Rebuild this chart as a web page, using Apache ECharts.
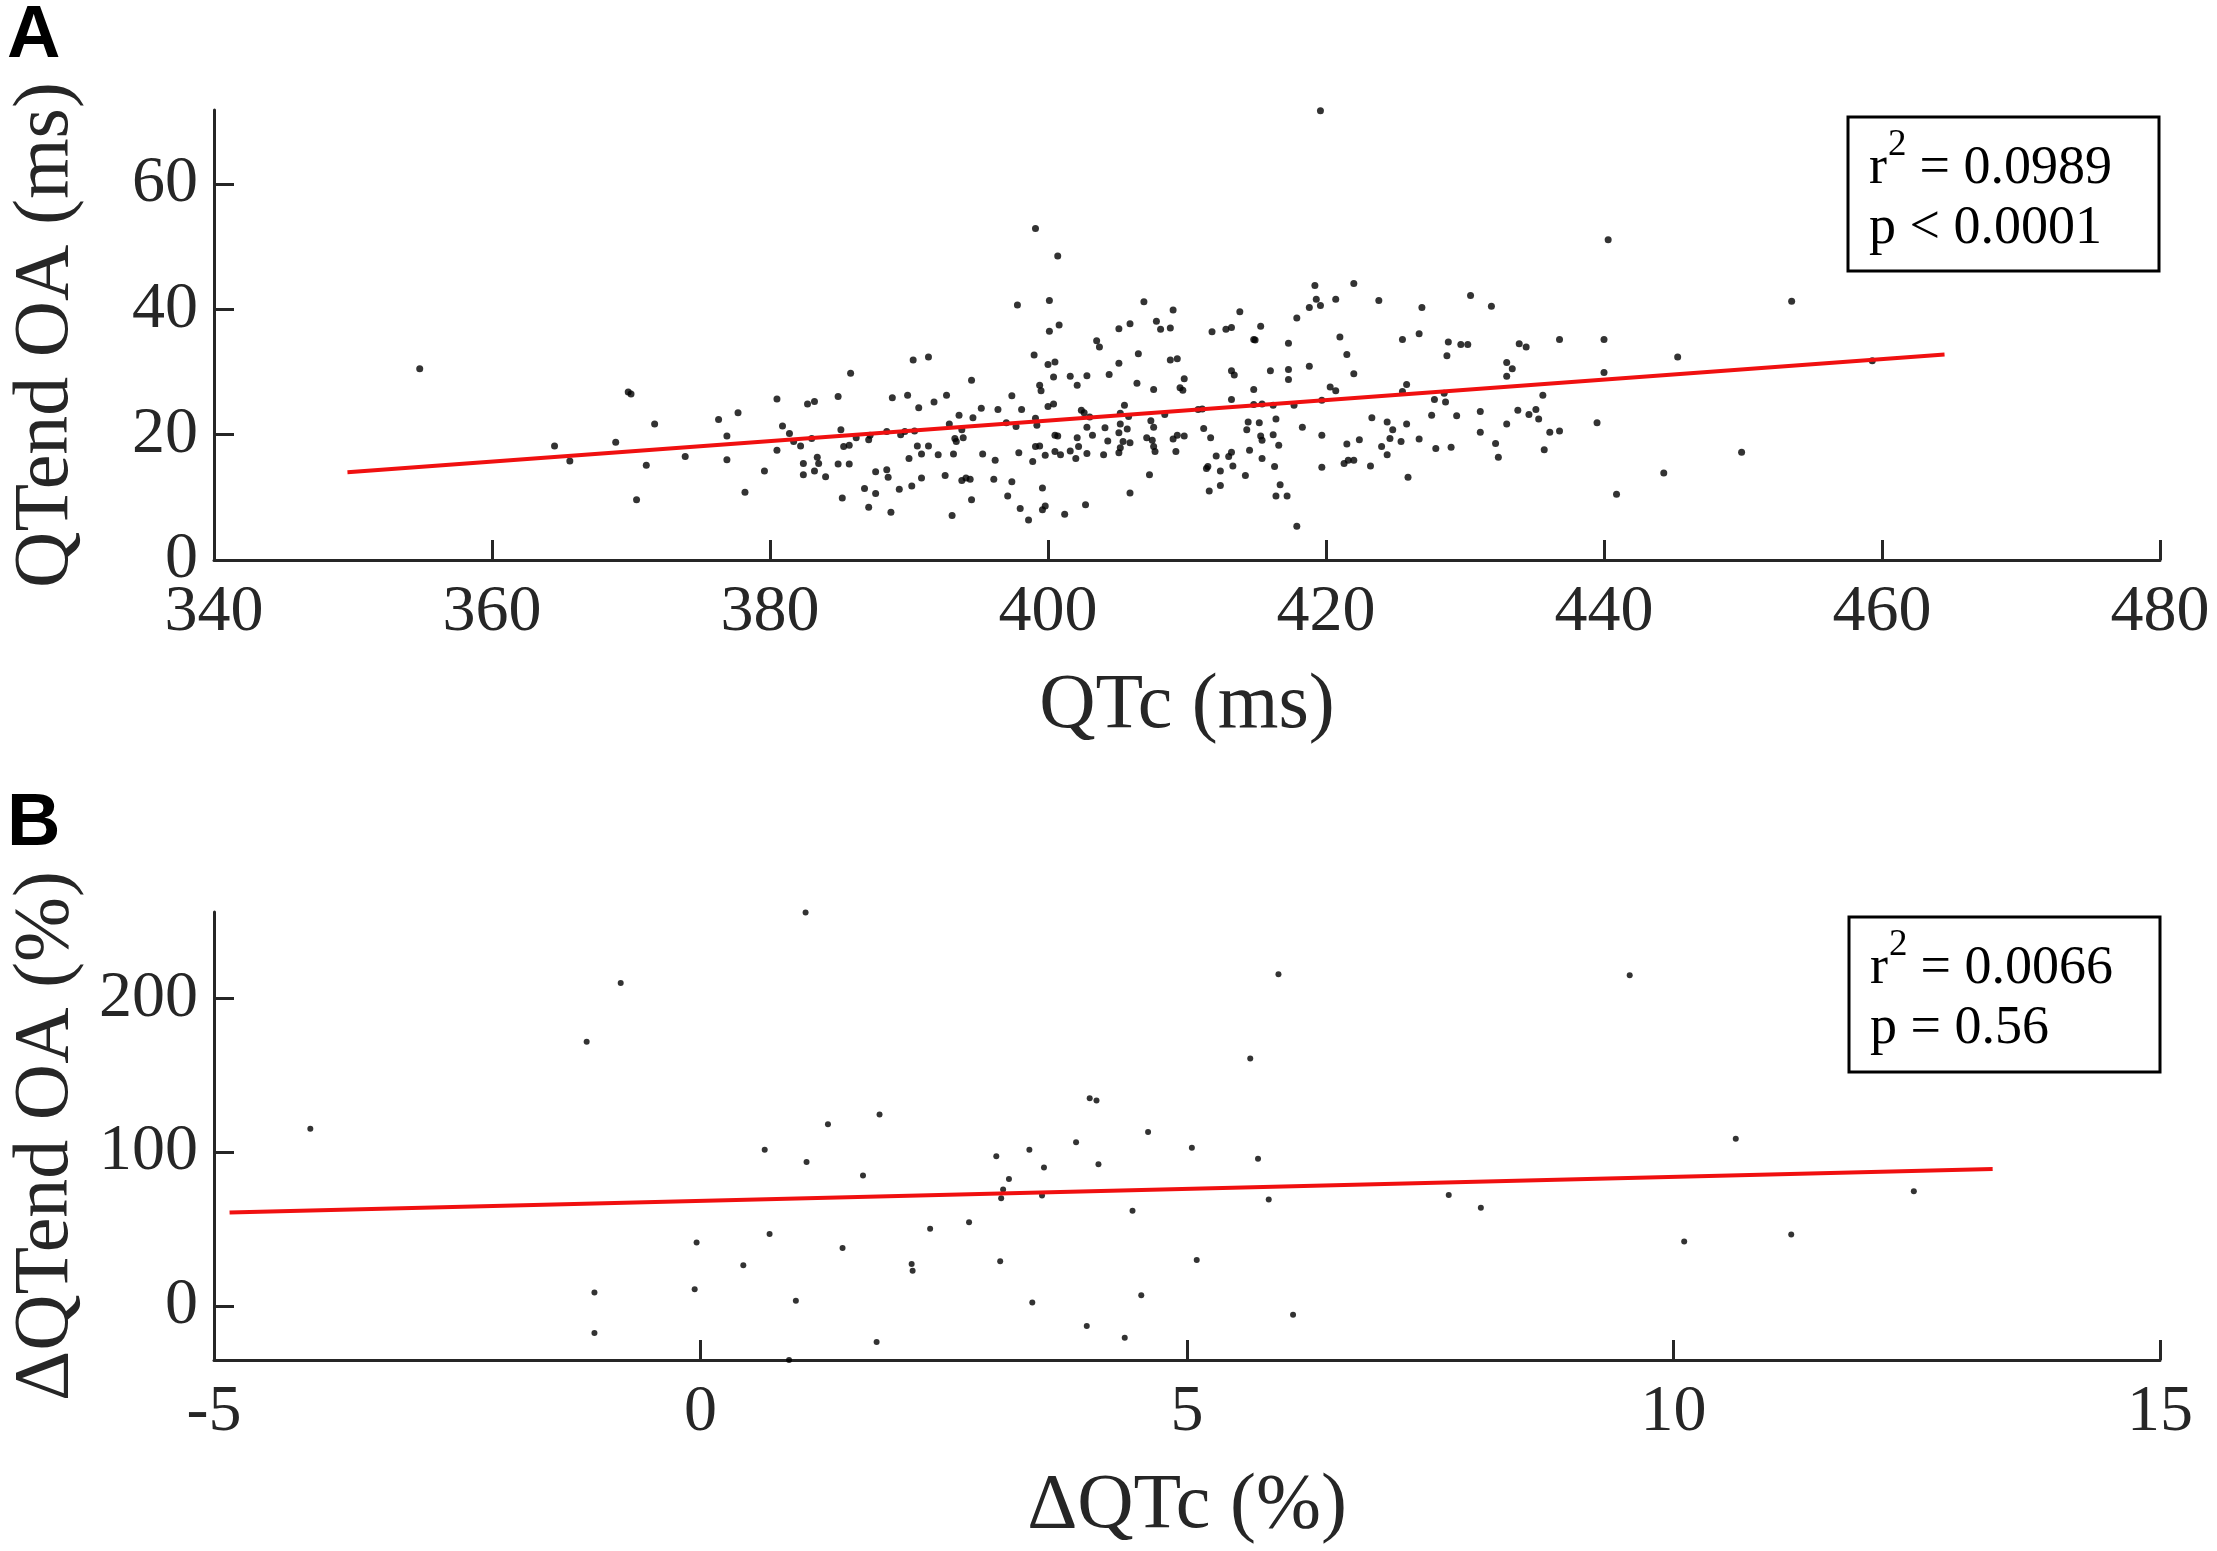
<!DOCTYPE html>
<html>
<head>
<meta charset="utf-8">
<script src="https://cdn.jsdelivr.net/npm/echarts@6/dist/echarts.min.js"></script>
<style>
  html, body { margin: 0; padding: 0; background: #fff; }
  #chart { width: 2217px; height: 1551px; }
</style>
</head>
<body>
<div id="chart"></div>
<script>
// ---- panel A : QTc (ms) vs QTend OA (ms) ----
const qtcA = [
  354.8,364.5,365.6,368.9,369.8,370.0,370.4,371.1,371.7,373.9,
  376.3,377.7,376.9,376.9,378.2,379.6,380.5,380.9,381.4,380.5,
  381.7,382.2,382.7,383.2,383.0,382.4,382.4,383.2,383.4,383.5,
  384.0,384.9,385.1,385.3,385.7,384.9,385.7,385.2,385.8,386.2,
  387.2,387.1,386.8,387.1,387.6,387.6,388.4,388.4,388.5,388.8,
  388.7,389.3,389.4,389.7,389.9,390.0,390.2,390.3,390.4,390.7,
  390.6,390.9,390.9,391.4,391.4,391.8,392.1,392.6,392.7,392.9,
  393.1,393.2,393.3,393.4,393.6,393.8,393.9,393.8,394.1,394.4,
  394.5,394.5,394.6,
  399.1,400.7,397.8,400.1,400.8,400.1,399.0,400.0,400.5,400.4,
  399.4,399.5,395.2,396.4,397.4,398.1,397.0,397.7,399.1,399.2,
  400.0,400.4,395.3,396.2,397.9,398.9,399.1,399.4,399.8,400.5,
  400.7,400.5,400.9,396.1,397.4,397.1,398.0,398.6,399.6,399.6,
  399.8,401.2,401.6,402.1,402.8,401.6,402.0,402.1,402.2,402.4,
  402.6,403.0,402.8,403.2,402.8,402.7,403.5,403.7,404.4,404.1,
  404.3,404.0,405.1,405.1,405.9,405.5,405.2,405.2,405.1,405.7,
  405.4,405.9,405.2,405.1,405.9,406.5,406.9,406.4,405.8,407.4,
  407.6,407.1,407.5,407.6,407.7,407.3,407.6,407.8,408.1,408.4,
  408.8,409.0,408.8,409.3,409.8,409.5,409.7,409.0,409.3,409.8,
  409.2,410.8,411.1,411.2,411.7,411.4,411.5,411.6,411.8,
  412.8,413.2,413.8,414.8,414.9,415.3,413.2,413.4,413.2,414.8,
  414.8,415.4,416.2,416.0,417.3,417.3,417.3,417.9,417.7,418.8,
  419.2,419.3,419.6,418.8,420.7,422.0,421.0,421.5,422.0,420.3,
  420.7,419.7,423.8,425.5,426.7,426.9,425.5,425.8,428.8,428.7,
  428.5,427.8,428.6,427.6,429.4,412.1,412.4,412.4,413.0,413.2,
  413.3,414.2,414.3,414.4,414.5,415.2,415.3,415.4,415.4,416.2,
  416.4,416.6,416.3,416.7,416.4,417.2,417.9,418.3,419.7,419.7,
  421.5,421.3,421.6,422.0,422.4,423.2,423.3,424.0,424.4,424.4,
  424.8,424.6,425.4,425.8,425.9,426.7,427.9,429.0,419.6,
  430.4,431.9,429.7,430.2,433.9,434.4,436.8,440.0,440.3,433.0,
  433.4,433.0,440.0,445.3,435.6,431.1,431.1,433.8,435.1,434.6,
  435.3,433.0,436.1,436.8,435.7,432.2,432.4,439.5,444.3,440.9,
  453.5,449.9,459.3
];
const oaA = [
  30.5,18.2,15.8,18.8,26.8,26.5,9.6,15.1,21.7,16.5,
  22.4,23.5,19.8,16.0,10.8,14.2,25.7,21.4,20.2,17.5,
  18.9,18.2,24.9,25.3,19.4,15.4,13.6,14.2,16.4,15.4,
  13.3,26.1,20.8,18.1,18.3,15.3,15.3,9.9,29.8,19.5,
  19.9,19.2,11.4,8.4,14.1,10.6,20.5,14.4,13.2,25.9,
  7.6,11.3,20.0,20.5,26.3,16.2,11.8,31.9,20.6,24.3,
  18.2,16.9,13.1,32.4,18.2,25.2,16.8,13.5,26.3,21.7,
  7.1,16.9,19.4,18.9,23.1,20.8,19.5,12.7,13.1,12.9,
  9.6,28.7,22.7,
  52.9,48.5,40.7,41.4,37.5,36.5,32.7,31.2,31.6,29.2,
  27.9,27.0,24.2,24.0,26.2,24.0,21.9,21.3,22.6,21.5,
  24.5,24.9,16.9,15.9,17.1,15.7,18.1,18.2,16.7,19.9,
  19.8,17.3,16.8,12.9,12.5,10.2,8.2,6.4,11.5,8.0,
  8.6,7.3,29.3,27.9,29.4,17.4,16.2,19.5,18.1,23.9,
  23.5,22.8,21.2,19.9,17.0,8.8,35.0,34.0,29.6,21.1,
  19.0,16.8,36.9,31.4,37.7,24.7,23.4,21.7,20.3,20.9,
  18.9,18.7,17.9,17.1,10.7,32.9,41.2,28.2,22.9,22.2,
  21.2,19.5,19.1,18.1,17.3,13.6,27.2,38.1,36.8,23.2,
  37.0,39.9,31.9,32.1,28.9,27.5,27.1,19.3,19.9,19.8,
  17.3,24.0,24.1,21.0,19.5,14.6,14.9,11.0,36.4,
  36.8,37.1,39.6,35.2,35.1,37.3,30.2,29.5,25.6,27.2,
  24.8,24.9,24.7,30.2,34.6,30.4,28.8,38.6,24.7,40.3,
  43.8,41.6,40.6,30.9,41.6,44.1,35.6,32.8,29.7,27.6,
  27.0,25.5,41.4,35.2,36.1,40.3,26.9,28.0,34.8,32.6,
  26.6,25.6,25.2,23.1,23.0,16.6,14.2,11.9,16.5,17.2,
  15.0,13.5,20.8,22.0,17.5,21.9,19.8,19.1,16.2,20.0,
  22.5,18.3,14.9,12.0,10.2,10.2,5.4,21.2,19.9,14.8,
  18.5,15.4,15.9,15.9,19.2,15.0,22.7,18.1,16.8,22.0,
  20.8,19.4,18.9,21.7,13.2,19.3,17.8,18.0,71.7,
  42.2,40.5,34.4,34.4,34.5,34.0,35.2,35.2,51.1,31.5,
  30.5,29.3,29.9,32.4,26.3,23.7,20.4,23.9,24.0,23.2,
  22.5,21.7,20.4,20.6,17.6,18.6,16.4,21.9,13.9,10.5,
  41.3,17.2,31.8
];
// regression line end points, panel A
const fitAx = [349.6, 464.5];
const fitAy = [14.0, 32.8];
const ticksAx = [340, 360, 380, 400, 420, 440, 460, 480];
const ticksAy = [0, 20, 40, 60];
const statsA = ['0.0989', 'p < 0.0001'];

// ---- panel B : ΔQTc (%) vs ΔQTend OA (%) ----
const dqtcB = [
  -4.01,-1.17,-0.82,-0.04,-0.06,-1.09,-1.09,
  1.08,1.31,1.84,0.66,1.09,1.67,0.71,1.46,0.44,2.17,2.18,0.98,1.81,0.91,
  2.36,2.76,3.04,3.38,3.17,3.11,3.09,3.53,3.51,3.08,3.41,
  3.86,4.00,4.07,4.09,4.44,3.97,4.36,4.53,4.60,5.05,5.10,
  5.94,9.55,5.65,5.73,5.84,6.09,7.69,8.02,10.64,10.11,11.21,12.47
];
const doaB = [
  115.2,171.7,209.9,41.4,11.0,8.8,-17.5,
  255.7,118.2,124.5,101.6,93.6,84.8,46.8,37.8,26.5,27.4,22.9,3.5,-23.3,-35.0,
  50.3,54.4,97.3,101.6,82.6,75.7,70.1,90.0,71.8,29.1,2.4,
  106.4,135.1,133.6,92.1,61.9,-12.9,-20.5,7.1,113.1,102.9,30.0,
  215.5,214.9,160.9,95.8,69.3,-5.6,72.1,63.9,108.7,41.9,46.6,74.6
];
const fitBx = [-4.84, 13.28];
const fitBy = [60.8, 89.1];
const ticksBx = [-5, 0, 5, 10, 15];
const ticksBy = [0, 100, 200];
const statsB = ['0.0066', 'p = 0.56'];

const SERIF = '"Liberation Serif", "Times New Roman", serif';
const INK = '#262626';

function pairs(xs, ys) { return xs.map((v, i) => [v, ys[i]]); }

function xAxisOf(grid, min, max, step, name) {
  return {
    gridIndex: grid, type: 'value', min: min, max: max, interval: step,
    name: name, nameLocation: 'middle', nameGap: 108,
    nameTextStyle: { fontFamily: SERIF, fontSize: 78, color: INK },
    axisLine: { show: true, onZero: false, lineStyle: { color: INK, width: 3 } },
    axisTick: { show: true, inside: true, length: 20, lineStyle: { color: INK, width: 3 } },
    axisLabel: { fontFamily: SERIF, fontSize: 66, color: INK, margin: 20 },
    splitLine: { show: false }
  };
}
function yAxisOf(grid, min, max, ticks, name) {
  return {
    gridIndex: grid, type: 'value', min: min, max: max,
    name: name, nameLocation: 'middle', nameGap: 128, nameRotate: 90,
    nameTextStyle: { fontFamily: SERIF, fontSize: 78, color: INK },
    axisLine: { show: true, onZero: false, lineStyle: { color: INK, width: 3 } },
    axisTick: { show: true, inside: true, length: 20, customValues: ticks, lineStyle: { color: INK, width: 3 } },
    axisLabel: { fontFamily: SERIF, fontSize: 66, color: INK, margin: 16, customValues: ticks },
    splitLine: { show: false }
  };
}
// boxed r^2 / p annotation; baseline of a text ~= centre + 0.34 * font size
function statsBox(left, top, w, h, r2, p) {
  const font = (s) => s + 'px ' + SERIF;
  const txt = (x, base, s, t) => ({
    type: 'text', x: x, y: base - 0.34 * s, z: 11,
    style: { text: t, font: font(s), fill: '#000', verticalAlign: 'middle' }
  });
  return [
    { type: 'rect', shape: { x: left, y: top, width: w, height: h },
      style: { fill: '#fff', stroke: '#000', lineWidth: 3 }, z: 10 },
    txt(left + 21, top + 70, 54, 'r'),
    txt(left + 40, top + 41, 37, '2'),
    txt(left + 58, top + 70, 54, ' = ' + r2),
    txt(left + 21, top + 130, 54, p)
  ];
}

const chart = echarts.init(document.getElementById('chart'));
chart.setOption({
  backgroundColor: '#fff',
  animation: false,
  grid: [
    { left: 206, top: 110, width: 1954, height: 450 },
    { left: 206, top: 912, width: 1954, height: 448 }
  ],
  xAxis: [
    xAxisOf(0, ticksAx[0], ticksAx[ticksAx.length - 1], 20, 'QTc (ms)'),
    xAxisOf(1, ticksBx[0], ticksBx[ticksBx.length - 1], 5, 'ΔQTc (%)')
  ],
  yAxis: [
    yAxisOf(0, 0, 71.8, ticksAy, 'QTend OA (ms)'),
    yAxisOf(1, -35, 256, ticksBy, 'ΔQTend OA (%)')
  ],
  series: [
    { type: 'scatter', xAxisIndex: 0, yAxisIndex: 0, data: pairs(qtcA, oaA),
      symbol: 'circle', symbolSize: 7, itemStyle: { color: '#000' } },
    { type: 'line', xAxisIndex: 0, yAxisIndex: 0, data: pairs(fitAx, fitAy),
      symbol: 'none', lineStyle: { color: '#f01010', width: 4 }, z: 3 },
    { type: 'scatter', xAxisIndex: 1, yAxisIndex: 1, data: pairs(dqtcB, doaB),
      symbol: 'circle', symbolSize: 6, itemStyle: { color: '#000' } },
    { type: 'line', xAxisIndex: 1, yAxisIndex: 1, data: pairs(fitBx, fitBy),
      symbol: 'none', lineStyle: { color: '#f01010', width: 4 }, z: 3 }
  ],
  graphic: [
    { type: 'text', x: 7, y: 0, style: { text: 'A', font: 'bold 74px "Liberation Sans", Arial, sans-serif', fill: '#000', verticalAlign: 'top' } },
    { type: 'text', x: 7, y: 788, style: { text: 'B', font: 'bold 74px "Liberation Sans", Arial, sans-serif', fill: '#000', verticalAlign: 'top' } }
  ].concat(statsBox(1848, 117, 311, 154, statsA[0], statsA[1]))
   .concat(statsBox(1849, 917, 311, 155, statsB[0], statsB[1]))
});
</script>
</body>
</html>
